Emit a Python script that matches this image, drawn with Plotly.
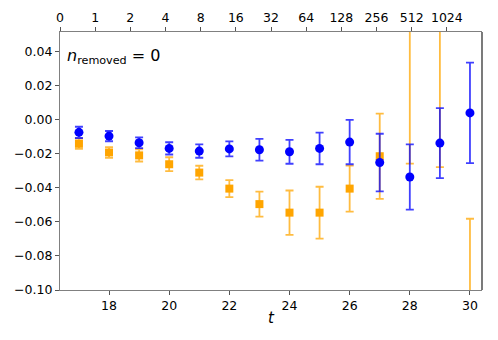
import plotly.graph_objects as go

t_vals = [17, 18, 19, 20, 21, 22, 23, 24, 25, 26, 27, 28, 29, 30]

blue_vals = [-0.0075, -0.0097, -0.0136, -0.0169, -0.0185, -0.0172, -0.0177,
             -0.0189, -0.0169, -0.0132, -0.0252, -0.0337, -0.0138, 0.0039]
blue_errs = [0.0033, 0.0030, 0.0032, 0.0036, 0.0039, 0.0044, 0.0064,
             0.0070, 0.0093, 0.0130, 0.0169, 0.0191, 0.0205, 0.0295]

orange_vals = [-0.0142, -0.0193, -0.0210, -0.0262, -0.0311, -0.0405, -0.0496,
               -0.0546, -0.0546, -0.0405, -0.0215, 0.0700, 0.0800, -0.1600]
orange_errs = [0.0030, 0.0032, 0.0036, 0.0041, 0.0040, 0.0050, 0.0073,
               0.0130, 0.0152, 0.0135, 0.0250, 0.0958, 0.1079, 0.1018]

top_ticks = [0, 1, 2, 3, 4, 5, 6, 7, 8, 9, 10, 11]
top_labels = ["0", "1", "2", "4", "8", "16", "32", "64", "128", "256", "512", "1024"]

y_ticks = [-0.10, -0.08, -0.06, -0.04, -0.02, 0.00, 0.02, 0.04]

fig = go.Figure()

fig.add_trace(go.Scatter(
    x=t_vals, y=orange_vals, mode="markers",
    marker=dict(symbol="square", size=8, color="#FFA500"),
    error_y=dict(type="data", array=orange_errs, visible=True,
                 color="rgba(255,165,0,0.75)", thickness=1.8, width=4),
    showlegend=False,
))
fig.add_trace(go.Scatter(
    x=t_vals, y=blue_vals, mode="markers",
    marker=dict(symbol="circle", size=9, color="#0000FF"),
    error_y=dict(type="data", array=blue_errs, visible=True,
                 color="rgba(0,0,255,0.75)", thickness=1.8, width=4),
    showlegend=False,
))
# invisible trace to activate the top axis
fig.add_trace(go.Scatter(x=[top_ticks[0], top_ticks[-1]], y=[-1, -1], xaxis="x2",
                         mode="markers", marker=dict(size=1, opacity=0),
                         showlegend=False, hoverinfo="skip"))

axis_font = dict(family="DejaVu Sans", size=12.5, color="black")

fig.update_layout(
    width=490, height=332,
    margin=dict(l=52, r=16, t=24, b=50, autoexpand=False),
    paper_bgcolor="white", plot_bgcolor="white",
    font=axis_font,
    xaxis=dict(range=[16.37, 30.4], tickvals=[18, 20, 22, 24, 26, 28, 30],
               ticks="outside", ticklen=4, tickcolor="#555", tickwidth=1,
               showgrid=False, zeroline=False, showline=True, linecolor="#808080",
               linewidth=1.2, mirror=False,
               title=dict(text="<i>t</i>", font=dict(family="DejaVu Sans", size=15), standoff=0)),
    xaxis2=dict(range=[0, 12], overlaying="x", side="top", anchor="y",
                tickvals=top_ticks, ticktext=top_labels,
                ticks="outside", ticklen=4, tickcolor="#555", tickwidth=1,
                showgrid=False, zeroline=False, showline=True, linecolor="#808080",
                linewidth=1.2),
    yaxis=dict(range=[-0.1, 0.0514], tickvals=y_ticks, tickformat=".2f",
               ticks="outside", ticklen=4, tickcolor="#555", tickwidth=1,
               showgrid=False, zeroline=False, showline=True, linecolor="#808080",
               linewidth=1.2, mirror=False),
    shapes=[dict(type="line", xref="paper", yref="paper", x0=1, x1=1, y0=0, y1=1,
                 line=dict(color="#222", width=1.2))],
    annotations=[dict(text="<i>n</i><sub>removed</sub> = 0", xref="paper", yref="paper",
                      x=0.012, y=0.905, xanchor="left", yanchor="middle", showarrow=False,
                      font=dict(family="DejaVu Sans", size=16, color="black"))],
)

fig.write_html("out.html")
